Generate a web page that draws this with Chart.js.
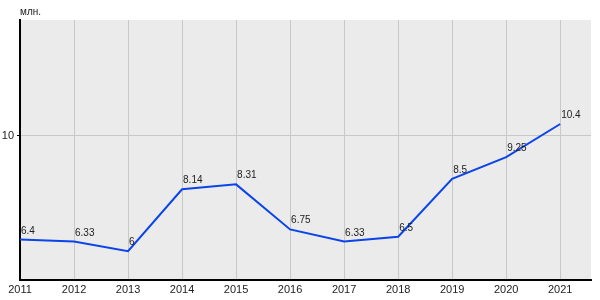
<!DOCTYPE html>
<html>
<head>
<meta charset="utf-8">
<script src="https://cdn.jsdelivr.net/npm/chart.js@4/dist/chart.umd.min.js"></script>
<style>
  html, body { margin: 0; padding: 0; background: #fff; }
  #wrap { width: 600px; height: 300px; }
</style>
</head>
<body>
<div id="wrap"><canvas id="chart"></canvas></div>
<script>
// chart data
const years = [2011, 2012, 2013, 2014, 2015, 2016, 2017, 2018, 2019, 2020, 2021];
const values = [6.4, 6.33, 6, 8.14, 8.31, 6.75, 6.33, 6.5, 8.5, 9.25, 10.4];
const yTicks = [10];
const unitLabel = 'млн.';

const FONT = '"Liberation Sans", Arial, sans-serif';

// grey plot background + unit caption
const backdrop = {
  id: 'backdrop',
  beforeDraw(chart) {
    const { ctx, chartArea: a } = chart;
    ctx.save();
    ctx.fillStyle = '#ebebeb';
    ctx.fillRect(a.left, a.top, a.right - a.left, a.bottom - a.top);
    ctx.fillStyle = '#222';
    ctx.font = '10px ' + FONT;
    ctx.textBaseline = 'alphabetic';
    ctx.fillText(unitLabel, a.left, a.top - 5);
    ctx.restore();
  }
};

// value labels next to each point
const pointLabels = {
  id: 'pointLabels',
  afterDatasetsDraw(chart) {
    const { ctx } = chart;
    const meta = chart.getDatasetMeta(0);
    ctx.save();
    ctx.fillStyle = '#222';
    ctx.font = '10px ' + FONT;
    ctx.textBaseline = 'alphabetic';
    meta.data.forEach((pt, i) => {
      ctx.fillText(String(values[i]), pt.x + 1, pt.y - 6);
    });
    ctx.restore();
  }
};

const ctx = document.getElementById('chart').getContext('2d');
new Chart(ctx, {
  type: 'line',
  data: {
    datasets: [{
      data: years.map((y, i) => ({ x: y, y: values[i] })),
      borderColor: '#0a44ea',
      borderWidth: 2,
      pointRadius: 0,
      tension: 0,
      fill: false
    }]
  },
  options: {
    responsive: true,
    maintainAspectRatio: false,
    animation: false,
    layout: { padding: { top: 20, right: 9, left: 0, bottom: 0 } },
    plugins: { legend: { display: false }, tooltip: { enabled: false } },
    scales: {
      x: {
        type: 'linear',
        min: 2011,
        max: 2021.57,
        afterBuildTicks(scale) { scale.ticks = years.map(v => ({ value: v })); },
        afterFit(scale) { scale.height = 20; },
        ticks: {
          color: '#222',
          font: { family: FONT, size: 11 },
          padding: 3,
          maxRotation: 0,
          callback: v => String(v)
        },
        grid: { color: '#c8c8c8', lineWidth: 1, drawTicks: false },
        border: { color: '#000', width: 2 }
      },
      y: {
        min: 5,
        max: 14,
        afterBuildTicks(scale) { scale.ticks = yTicks.map(v => ({ value: v })); },
        afterFit(scale) { scale.width = 20; },
        ticks: {
          color: '#222',
          font: { family: FONT, size: 11 },
          padding: 3
        },
        grid: { color: '#c8c8c8', lineWidth: 1, tickColor: '#000', tickLength: 3 },
        border: { color: '#000', width: 2 }
      }
    }
  },
  plugins: [backdrop, pointLabels]
});
</script>
</body>
</html>
